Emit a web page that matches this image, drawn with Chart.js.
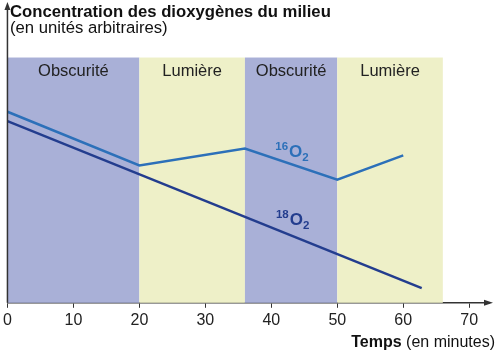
<!DOCTYPE html>
<html>
<head>
<meta charset="utf-8">
<script src="https://cdn.jsdelivr.net/npm/chart.js@4/dist/chart.umd.min.js"></script>
<style>
  body { margin: 0; background: #fff; }
  #wrap { width: 500px; height: 354px; }
</style>
</head>
<body>
<div id="wrap"><canvas id="myChart" width="500" height="354"></canvas></div>
<script>
// temps en minutes / concentration (unites arbitraires)
var temps16 = [0, 20, 36, 50, 60];
var o16 = [64.8, 46.6, 52.3, 41.8, 50.0];
var temps18 = [0, 62.8];
var o18 = [61.6, 5.0];
var timeTicks = [0, 10, 20, 30, 40, 50, 60, 70];

// periodes obscurite / lumiere
var bandStart = [0, 20, 36, 50];
var bandEnd = [20, 36, 50, 66];
var bandLabels = ['Obscurité', 'Lumière', 'Obscurité', 'Lumière'];
var bandTop = 83.2;

var darkColor = '#a9b0d7';
var lightColor = '#eef0c8';
var col16 = '#2c70b9';
var col18 = '#233d8e';
var FONT = '"Liberation Sans", Arial, sans-serif';

function isotope(ctx, x, y, mass, color) {
    ctx.fillStyle = color;
    ctx.textAlign = 'left';
    ctx.textBaseline = 'alphabetic';
    ctx.font = 'bold 11.5px ' + FONT;
    ctx.fillText(mass, x, y - 6);
    var w = ctx.measureText(mass).width;
    ctx.font = 'bold 17px ' + FONT;
    ctx.fillText('O', x + w + 1, y + 1);
    var w2 = ctx.measureText('O').width;
    ctx.font = 'bold 11.5px ' + FONT;
    ctx.fillText('2', x + w + w2 + 1, y + 5);
}

var decor = {
    id: 'decor',
    beforeDatasetsDraw: function(chart) {
        var ctx = chart.ctx;
        var xs = chart.scales.x, ys = chart.scales.y;
        ctx.save();
        for (var i = 0; i < bandStart.length; i++) {
            var x0 = xs.getPixelForValue(bandStart[i]);
            var x1 = xs.getPixelForValue(bandEnd[i]);
            var y0 = ys.getPixelForValue(bandTop);
            var y1 = ys.getPixelForValue(0);
            ctx.fillStyle = (i % 2 == 0) ? darkColor : lightColor;
            ctx.fillRect(x0, y0, x1 - x0, y1 - y0);
            ctx.fillStyle = '#222';
            ctx.font = '16.5px ' + FONT;
            ctx.textAlign = 'center';
            ctx.textBaseline = 'middle';
            ctx.fillText(bandLabels[i], (x0 + x1) / 2, y0 + 14);
        }
        ctx.restore();
    },
    afterDraw: function(chart) {
        var ctx = chart.ctx;
        var a = chart.chartArea;
        var xs = chart.scales.x, ys = chart.scales.y;
        ctx.save();
        // axe vertical + fleche
        ctx.strokeStyle = '#333';
        ctx.fillStyle = '#333';
        ctx.lineWidth = 1.5;
        ctx.beginPath();
        ctx.moveTo(a.left, a.bottom);
        ctx.lineTo(a.left, a.top - 2);
        ctx.stroke();
        ctx.beginPath();
        ctx.moveTo(a.left, a.top - 6);
        ctx.lineTo(a.left - 3, a.top + 2);
        ctx.lineTo(a.left + 3, a.top + 2);
        ctx.closePath();
        ctx.fill();
        // fleche horizontale
        ctx.beginPath();
        ctx.moveTo(a.right + 4, a.bottom);
        ctx.lineTo(a.right - 5, a.bottom - 3);
        ctx.lineTo(a.right - 5, a.bottom + 3);
        ctx.closePath();
        ctx.fill();

        // titres
        ctx.fillStyle = '#111';
        ctx.textAlign = 'left';
        ctx.textBaseline = 'alphabetic';
        ctx.font = 'bold 16.7px ' + FONT;
        ctx.fillText('Concentration des dioxygènes du milieu', 10, 17);
        ctx.font = '16.7px ' + FONT;
        ctx.fillText('(en unités arbitraires)', 10, 33);

        ctx.textAlign = 'right';
        ctx.font = '16px ' + FONT;
        var t2 = ' (en minutes)';
        ctx.fillText(t2, 495, 347);
        var w = ctx.measureText(t2).width;
        ctx.font = 'bold 16px ' + FONT;
        ctx.fillText('Temps', 495 - w, 347);

        isotope(ctx, xs.getPixelForValue(40.6), ys.getPixelForValue(49.8), '16', col16);
        isotope(ctx, xs.getPixelForValue(40.7), ys.getPixelForValue(26.8), '18', col18);
        ctx.restore();
    }
};

var ctx = document.getElementById('myChart');
var myChart = new Chart(ctx, {
    type: 'scatter',
    data: {
        datasets: [{
            label: '16O2',
            data: temps16.map(function(t, i) { return { x: t, y: o16[i] }; }),
            showLine: true,
            borderColor: col16,
            borderWidth: 2.5,
            pointRadius: 0,
            fill: false
        }, {
            label: '18O2',
            data: temps18.map(function(t, i) { return { x: t, y: o18[i] }; }),
            showLine: true,
            borderColor: col18,
            borderWidth: 2.5,
            pointRadius: 0,
            fill: false
        }]
    },
    options: {
        responsive: false,
        animation: false,
        layout: { padding: { left: 7, right: 11, top: 8, bottom: 21 } },
        plugins: { legend: { display: false }, tooltip: { enabled: false } },
        scales: {
            x: {
                type: 'linear',
                min: 0,
                max: 73,
                afterBuildTicks: function(axis) {
                    axis.ticks = timeTicks.map(function(v) { return { value: v }; });
                },
                grid: { display: true, drawOnChartArea: false, tickLength: 5, color: '#333' },
                border: { display: true, color: '#333', width: 1.5 },
                ticks: {
                    maxRotation: 0,
                    autoSkip: false,
                    padding: 3,
                    color: '#222',
                    font: { family: FONT, size: 16 }
                }
            },
            y: {
                display: false,
                min: 0,
                max: 100
            }
        }
    },
    plugins: [decor]
});
</script>
</body>
</html>
